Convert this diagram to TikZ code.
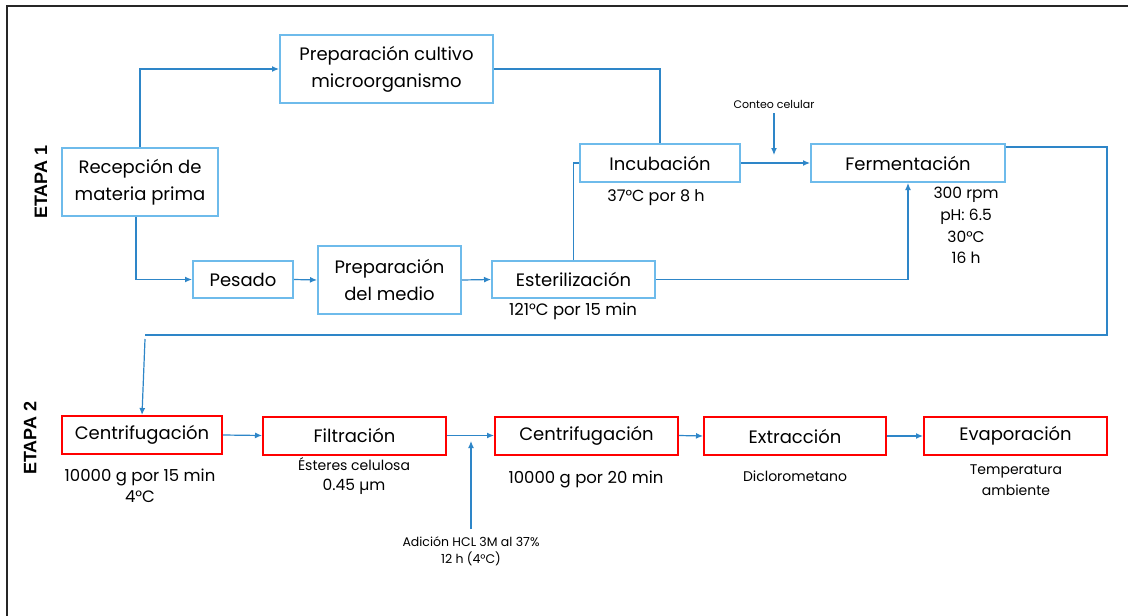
\documentclass[tikz,border=0pt]{standalone}
\usepackage{fontspec}
\setmainfont{Poppins}
\newfontfamily\etapafont{Liberation Sans}
\usetikzlibrary{arrows.meta}
\definecolor{boxblue}{HTML}{6EBBEB}
\definecolor{lineblue}{HTML}{2E86C8}
\definecolor{boxred}{HTML}{FF0000}
\tikzset{
  bbox/.style={draw=boxblue, line width=2pt, align=center, inner sep=0pt,
    font=\fontsize{18}{27}\selectfont},
  rbox/.style={draw=boxred, line width=2pt, align=center, inner sep=0pt,
    font=\fontsize{18}{27}\selectfont, minimum height=38pt},
  conn/.style={draw=lineblue, line width=1.2pt},
  arr/.style={conn, -{Latex[length=7pt,width=6pt]}},
  note/.style={align=center, inner sep=0pt, font=\fontsize{14}{21.5}\selectfont},
  bignote/.style={align=center, inner sep=0pt, font=\fontsize{16.5}{21.5}\selectfont},
  small/.style={align=center, inner sep=0pt, font=\fontsize{11}{17}\selectfont},
  etapa/.style={rotate=90, inner sep=0pt, font=\etapafont\bfseries\fontsize{18}{20}\selectfont}
}
\begin{document}
\begin{tikzpicture}[x=1pt,y=-1pt]
\useasboundingbox (0,0) rectangle (1128,616);
\fill[white] (0,0) rectangle (1128,616);
\draw[black!85, line width=1.6pt] (7,625) -- (7,6) -- (1135,6);

% Etapa labels
\node[etapa] (e1) at (41,182) {ETAPA 1};
\node[etapa] (e2) at (30,438) {ETAPA 2};

% Stage 1 boxes
\node[bbox, minimum width=156pt, minimum height=68pt] (rec) at (140,182) {Recepción de\\materia prima};
\node[bbox, minimum width=213pt, minimum height=68pt] (cult) at (386.5,69) {Preparación cultivo\\microorganismo};
\node[bbox, minimum width=100pt, minimum height=37pt] (pes) at (243,279.5) {Pesado};
\node[bbox, minimum width=143pt, minimum height=68pt] (med) at (389.5,280) {Preparación\\del medio};
\node[bbox, minimum width=163pt, minimum height=37pt] (est) at (573.5,279.5) {Esterilización};
\node[bbox, minimum width=160pt, minimum height=38pt] (inc) at (660,163) {Incubación};
\node[bbox, minimum width=194pt, minimum height=38pt] (fer) at (908,163) {Fermentación};

% Stage 1 notes
\node[small] (conteo) at (774,104) {Conteo celular};
\coordinate (ctend) at (774,155);
\node[bignote, font=\fontsize{16}{21.5}\selectfont] (incn) at (656,198) {37°C por 8 h};
\node[bignote] (estn) at (573,311) {121°C por 15 min};
\node[bignote, font=\fontsize{15.5}{21.7}\selectfont, anchor=north] (fern) at (966,187) {300 rpm\\pH: 6.5\\30°C\\16 h};

% Stage 1 connectors
\draw[arr] (rec.north) |- (cult.west);
\draw[arr] ([xshift=-4pt]rec.south) |- (pes.west);
\draw[arr] (pes.east) -- (med.west);
\draw[arr] (med.east) -- (est.west);
\draw[conn] (cult.east) -| (inc.north);
\draw[conn] (est.north) |- (inc.west);
\draw[arr] (inc.east) -- (fer.west);
\draw[arr] (conteo.south) ++(0,5) -- (ctend);
\draw[arr] (est.east) -| (fer.south);

% Stage 2 boxes
\node[rbox, minimum width=160pt] (c1) at (142,435) {Centrifugación};
\node[rbox, minimum width=183pt] (fil) at (354.5,435.5) {Filtración};
\node[rbox, minimum width=183pt] (c2) at (586.5,435.5) {Centrifugación};
\node[rbox, minimum width=182pt] (ext) at (795,436) {Extracción};
\node[rbox, minimum width=183pt] (eva) at (1015.5,436) {Evaporación};

% Stage 1 -> Stage 2 connector
\coordinate (r1) at (1107,147);
\coordinate (r2) at (1107,335);
\coordinate (r3) at (145,335);
\draw[conn] (fer.east |- r1) -- (r1) -- (r2) -- (r3);
\draw[arr] (145,339) -- (c1.north);

% Stage 2 connectors
\draw[arr] (c1.east) -- (fil.west);
\draw[arr] (fil.east) -- (c2.west);
\draw[arr] (c2.east) -- (ext.west);
\draw[arr] (ext.east) -- (eva.west);
\coordinate (hclstart) at (471,529);
\coordinate (hclend) at (471,441);
\draw[arr] (hclstart) -- (hclend);

% Stage 2 notes
\node[bignote] (c1n) at (140,486) {10000 g por 15 min\\4°C};
\node[note] (filn) at (354,464) {Ésteres celulosa};
\node[note, font=\fontsize{15.5}{20}\selectfont] (filn2) at (354,487) {0.45 µm};
\node[bignote] (c2n) at (586,479) {10000 g por 20 min};
\node[note] (extn) at (795,476) {Diclorometano};
\node[note] (evan) at (1016,480) {Temperatura\\ambiente};
\node[small, font=\fontsize{12.5}{17}\selectfont] (hcl) at (471,551) {Adición HCL 3M al 37\%\\12 h (4°C)};
\end{tikzpicture}
\end{document}
